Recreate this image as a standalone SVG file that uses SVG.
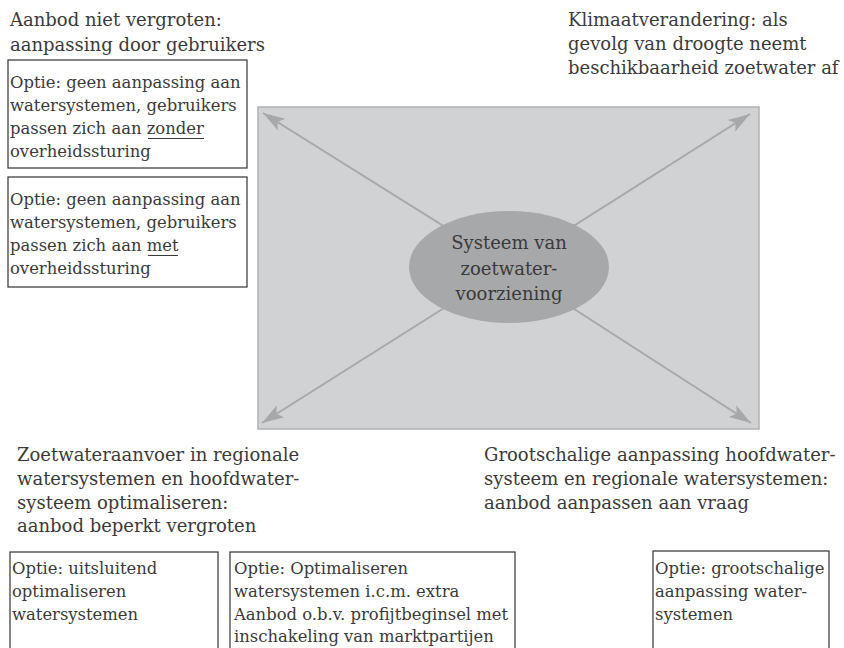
<svg xmlns="http://www.w3.org/2000/svg" width="844" height="648" viewBox="0 0 844 648">
<defs>
<style>
text{font-family:"DejaVu Serif","Liberation Serif",serif;fill:#3a3a3a}
.h{font-size:18px}
.b{font-size:16.4px}
.c{font-size:18px;text-anchor:middle}
.box{fill:#fff;stroke:#333;stroke-width:1.2}
.arr{stroke:#a7a8aa;stroke-width:2;fill:none;marker-end:url(#ah)}
.ul{stroke:#3a3a3a;stroke-width:1}
</style>
<marker id="ah" viewBox="0 -8 24 16" refX="22" refY="0" markerWidth="24" markerHeight="16" markerUnits="userSpaceOnUse" orient="auto">
<path d="M0,-7 L22,0 L0,7 L5,0 Z" fill="#a7a8aa"/>
</marker>
</defs>

<g id="frame">
<rect x="258" y="107" width="501" height="322" fill="#d1d2d4" stroke="#b0b1b3" stroke-width="1.5"/>
</g>

<g id="connectors">
<line class="arr" x1="509" y1="267" x2="263" y2="113"/>
<line class="arr" x1="509" y1="267" x2="750" y2="114"/>
<line class="arr" x1="509" y1="267" x2="262" y2="423"/>
<line class="arr" x1="509" y1="267" x2="751" y2="423"/>
</g>

<g id="center">
<ellipse cx="509" cy="267" rx="100" ry="56" fill="#a7a8aa"/>
<text class="c" x="509" y="249">Systeem van</text>
<text class="c" x="509" y="275">zoetwater-</text>
<text class="c" x="509" y="300">voorziening</text>
</g>

<g id="heading-tl">
<text class="h" x="10" y="26">Aanbod niet vergroten:</text>
<text class="h" x="10" y="51">aanpassing door gebruikers</text>
</g>

<g id="option-zonder">
<rect class="box" x="8" y="60" width="239" height="108"/>
<text class="b" x="10" y="88">Optie: geen aanpassing aan</text>
<text class="b" x="10" y="111">watersystemen, gebruikers</text>
<text class="b" x="10" y="134">passen zich aan zonder</text>
<text class="b" x="10" y="157">overheidssturing</text>
<line class="ul" x1="148" y1="138.5" x2="204" y2="138.5"/>
</g>

<g id="option-met">
<rect class="box" x="8" y="177" width="239" height="110"/>
<text class="b" x="10" y="205">Optie: geen aanpassing aan</text>
<text class="b" x="10" y="228">watersystemen, gebruikers</text>
<text class="b" x="10" y="251">passen zich aan met</text>
<text class="b" x="10" y="274">overheidssturing</text>
<line class="ul" x1="148" y1="255.5" x2="178" y2="255.5"/>
</g>

<g id="heading-tr">
<text class="h" x="568" y="26">Klimaatverandering: als</text>
<text class="h" x="568" y="50">gevolg van droogte neemt</text>
<text class="h" x="568" y="74">beschikbaarheid zoetwater af</text>
</g>

<g id="heading-bl">
<text class="h" x="17" y="461">Zoetwateraanvoer in regionale</text>
<text class="h" x="17" y="485">watersystemen en hoofdwater-</text>
<text class="h" x="17" y="509">systeem optimaliseren:</text>
<text class="h" x="17" y="532">aanbod beperkt vergroten</text>
</g>

<g id="heading-br">
<text class="h" x="484" y="461">Grootschalige aanpassing hoofdwater-</text>
<text class="h" x="484" y="485">systeem en regionale watersystemen:</text>
<text class="h" x="484" y="509">aanbod aanpassen aan vraag</text>
</g>

<g id="option-uitsluitend">
<rect class="box" x="10" y="552" width="208" height="100"/>
<text class="b" x="12" y="574">Optie: uitsluitend</text>
<text class="b" x="12" y="597">optimaliseren</text>
<text class="b" x="12" y="620">watersystemen</text>
</g>

<g id="option-markt">
<rect class="box" x="230" y="552" width="285" height="100"/>
<text class="b" x="234" y="574">Optie: Optimaliseren</text>
<text class="b" x="234" y="597">watersystemen i.c.m. extra</text>
<text class="b" x="234" y="620">Aanbod o.b.v. profijtbeginsel met</text>
<text class="b" x="234" y="642">inschakeling van marktpartijen</text>
</g>

<g id="option-grootschalig">
<rect class="box" x="653" y="551" width="176" height="101"/>
<text class="b" x="655" y="574">Optie: grootschalige</text>
<text class="b" x="655" y="597">aanpassing water-</text>
<text class="b" x="655" y="620">systemen</text>
</g>
</svg>
